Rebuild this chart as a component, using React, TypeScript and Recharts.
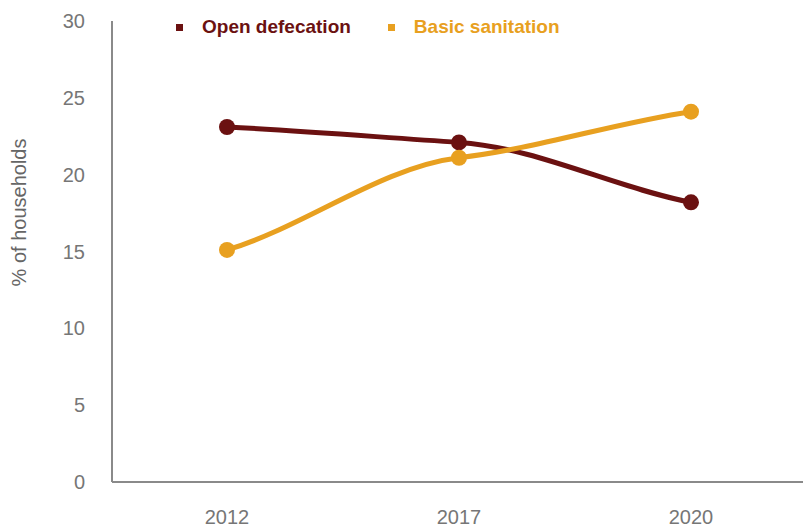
import { LineChart, Line, XAxis, YAxis, Label } from "recharts";

// Anos do inquérito e percentagens
const YEARS = ["2012", "2017", "2020"];
const OPEN_DEFECATION = [23.1, 22.1, 18.2];
const BASIC_SANITATION = [15.1, 21.1, 24.1];
const Y_TICKS = [0, 5, 10, 15, 20, 25, 30];

const SERIES = [
  { key: "open", name: "Open defecation", color: "#6B1111", values: OPEN_DEFECATION },
  { key: "basic", name: "Basic sanitation", color: "#E8A020", values: BASIC_SANITATION },
];

const data = YEARS.map((year, i) => {
  const row: Record<string, string | number> = { year };
  SERIES.forEach((s) => {
    row[s.key] = s.values[i];
  });
  return row;
});

const FONT = '"Liberation Sans", Arial, sans-serif';
const AXIS_GRAY = "#8a8a8a";
const TEXT_GRAY = "#767676";

// Curva suave (Hermite) com tangentes achatadas nos pontos interiores,
// para imitar o "smoothed line" do gráfico original
const K_INTERIOR = 0.4;
const K_END = 0.75;

function smoothCurve(context: any) {
  let pts: [number, number][] = [];
  return {
    areaStart() {},
    areaEnd() {},
    lineStart() {
      pts = [];
    },
    point(x: number, y: number) {
      pts.push([+x, +y]);
    },
    lineEnd() {
      const n = pts.length;
      if (!n) return;
      context.moveTo(pts[0][0], pts[0][1]);
      if (n === 1) return;
      const m: number[] = pts.map((p, i) => {
        if (i === 0) return K_END * (pts[1][1] - p[1]) / (pts[1][0] - p[0]);
        if (i === n - 1) return K_END * (p[1] - pts[i - 1][1]) / (p[0] - pts[i - 1][0]);
        return K_INTERIOR * (pts[i + 1][1] - pts[i - 1][1]) / (pts[i + 1][0] - pts[i - 1][0]);
      });
      for (let i = 0; i < n - 1; i++) {
        const [x0, y0] = pts[i];
        const [x1, y1] = pts[i + 1];
        const d = (x1 - x0) / 3;
        context.bezierCurveTo(x0 + d, y0 + m[i] * d, x1 - d, y1 - m[i + 1] * d, x1, y1);
      }
    },
  };
}

// Legenda simples no topo, com quadrados e texto na cor de cada série
function TopLegend() {
  return (
    <div
      style={{
        position: "absolute",
        left: 176,
        top: 16,
        display: "flex",
        alignItems: "center",
        fontFamily: FONT,
        fontSize: 19,
        fontWeight: 700,
      }}
    >
      {SERIES.map((s, i) => (
        <div
          key={s.key}
          style={{ display: "flex", alignItems: "center", marginRight: i === 0 ? 37 : 0 }}
        >
          <span style={{ width: 7, height: 7, background: s.color, marginRight: 19 }} />
          <span style={{ color: s.color }}>{s.name}</span>
        </div>
      ))}
    </div>
  );
}

export default function App() {
  return (
    <div style={{ position: "absolute", left: 0, top: 0, width: 803, height: 528, overflow: "hidden", background: "#fff" }}>
      <LineChart
        width={803}
        height={528}
        data={data}
        margin={{ top: 21, right: 0, left: 0, bottom: 0 }}
      >
        <XAxis
          dataKey="year"
          height={46}
          padding={{ left: 115, right: 112 }}
          axisLine={{ stroke: AXIS_GRAY, strokeWidth: 2 }}
          tickLine={false}
          tickSize={0}
          tickMargin={28}
          tick={{ fontSize: 20, fill: TEXT_GRAY, fontFamily: FONT }}
        />
        <YAxis
          width={112}
          domain={[0, 30]}
          ticks={Y_TICKS}
          interval={0}
          axisLine={{ stroke: AXIS_GRAY, strokeWidth: 2 }}
          tickLine={false}
          tickSize={0}
          tickMargin={27}
          tick={{ fontSize: 20, fill: TEXT_GRAY, fontFamily: FONT }}
        >
          <Label
            value="% of households"
            angle={-90}
            position="insideLeft"
            offset={19}
            dy={-39}
            style={{ fontSize: 20, fill: "#666666", fontFamily: FONT, textAnchor: "middle" }}
          />
        </YAxis>
        {SERIES.map((s) => (
          <Line
            key={s.key}
            dataKey={s.key}
            name={s.name}
            type={smoothCurve as any}
            stroke={s.color}
            strokeWidth={5}
            dot={{ r: 8, fill: s.color, stroke: s.color, strokeWidth: 0 }}
            activeDot={false}
            isAnimationActive={false}
          />
        ))}
      </LineChart>
      <TopLegend />
    </div>
  );
}
